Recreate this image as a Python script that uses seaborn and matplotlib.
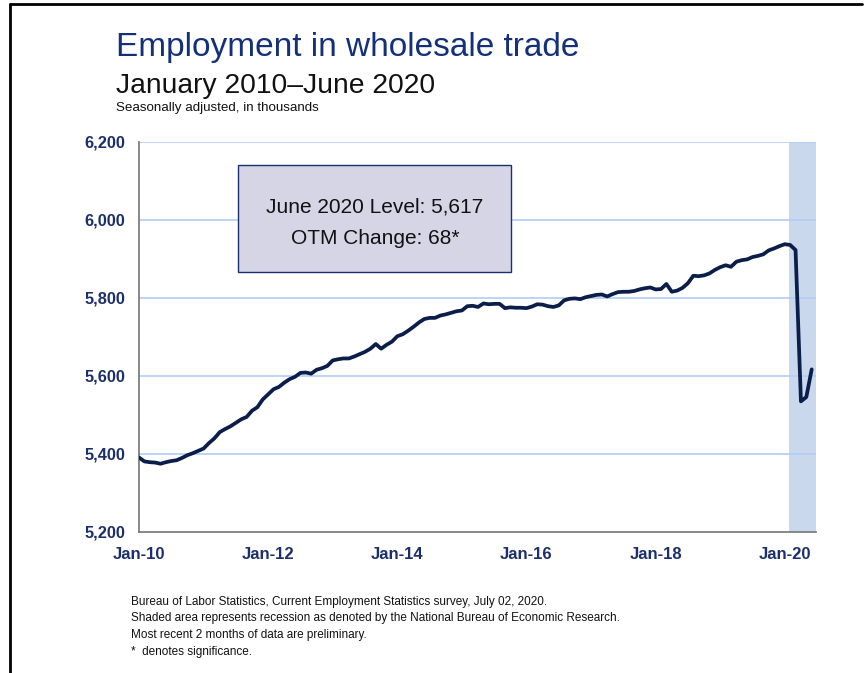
import numpy as np
import pandas as pd
import matplotlib
matplotlib.use("Agg")
import matplotlib.pyplot as plt
import seaborn as sns
from matplotlib.patches import Rectangle
from matplotlib.lines import Line2D

# ---- data (thousands, seasonally adjusted), Jan 2010 - Jun 2020 ----
y2010 = [5391, 5381, 5379, 5378, 5375, 5379, 5382, 5384, 5390, 5397, 5402, 5408]
y2011 = [5414, 5428, 5440, 5456, 5464, 5471, 5480, 5489, 5495, 5511, 5520, 5540]
y2012 = [5553, 5566, 5572, 5583, 5592, 5598, 5608, 5609, 5606, 5616, 5620, 5626]
y2013 = [5640, 5643, 5645, 5645, 5650, 5656, 5662, 5670, 5682, 5670, 5680, 5688]
y2014 = [5702, 5707, 5716, 5726, 5737, 5746, 5749, 5749, 5755, 5758, 5762, 5766]
y2015 = [5768, 5779, 5780, 5777, 5786, 5784, 5785, 5785, 5774, 5776, 5775, 5775]
y2016 = [5774, 5778, 5784, 5783, 5779, 5777, 5781, 5794, 5798, 5799, 5797, 5802]
y2017 = [5805, 5808, 5809, 5804, 5810, 5815, 5816, 5816, 5818, 5822, 5825, 5827]
y2018 = [5822, 5823, 5836, 5816, 5819, 5826, 5838, 5857, 5856, 5858, 5863, 5872]
y2019 = [5879, 5884, 5880, 5893, 5897, 5899, 5905, 5908, 5912, 5922, 5927, 5933]
y2020 = [5938, 5936, 5923, 5535, 5546, 5617]

employment = y2010 + y2011 + y2012 + y2013 + y2014 + y2015 + y2016 + y2017 + y2018 + y2019 + y2020
months = list(range(len(employment)))

x_tick_months = [0, 24, 48, 72, 96, 120]
x_tick_labels = ["Jan-10", "Jan-12", "Jan-14", "Jan-16", "Jan-18", "Jan-20"]
y_ticks = [5200, 5400, 5600, 5800, 6000, 6200]
y_tick_labels = ["5,200", "5,400", "5,600", "5,800", "6,000", "6,200"]
recession_start = 121  # Feb 2020

title = "Employment in wholesale trade"
subtitle = "January 2010\u2013June 2020"
units = "Seasonally adjusted, in thousands"
box_lines = ["June 2020 Level: 5,617", "OTM Change: 68*"]
notes = [
    "Bureau of Labor Statistics, Current Employment Statistics survey, July 02, 2020.",
    "Shaded area represents recession as denoted by the National Bureau of Economic Research.",
    "Most recent 2 months of data are preliminary.",
    "*  denotes significance.",
]

df = pd.DataFrame({"month": months, "employment": employment})

sns.set_style("white")
plt.rcParams["font.family"] = ["Liberation Sans", "DejaVu Sans"]

W, H = 867, 673
fig = plt.figure(figsize=(W / 100, H / 100), dpi=100)
ax = fig.add_axes([139 / W, 1 - 532 / H, (816 - 139) / W, (532 - 142) / H])

navy = "#1B2F6B"
line_col = "#0B1E4A"

# recession shading
ax.axvspan(recession_start - 0.2, 125.8, color="#C9D8EC", zorder=0, lw=0)

sns.lineplot(data=df, x="month", y="employment", ax=ax, color=line_col,
             linewidth=2.7, zorder=3)

ax.set_xlim(0, 125.8)
ax.set_ylim(5200, 6200)
ax.set_yticks(y_ticks)
ax.set_yticklabels(y_tick_labels)
ax.set_xticks(x_tick_months)
ax.set_xticklabels(x_tick_labels)
ax.set_xlabel("")
ax.set_ylabel("")

for yv in y_ticks[1:]:
    ax.axhline(yv, color="#B3CDF3", lw=1.2, zorder=1)

for s in ["top", "right"]:
    ax.spines[s].set_visible(False)
for s in ["left", "bottom"]:
    ax.spines[s].set_color("#7F7F7F")
    ax.spines[s].set_linewidth(1.3)

ax.tick_params(axis="both", which="major", direction="out", length=5,
               width=1, color="#333333", labelcolor=navy, labelsize=11.8, pad=4)
for lab in ax.get_xticklabels() + ax.get_yticklabels():
    lab.set_fontweight("bold")
ax.tick_params(axis="x", pad=6, labelsize=12)
ax.tick_params(axis="y", pad=5)

# annotation box
box = Rectangle((238 / W, 1 - 272 / H), (511 - 238) / W, (272 - 165) / H,
                transform=fig.transFigure, facecolor="#D5D5E5",
                edgecolor="#1B2F6B", linewidth=1.0, zorder=5)
fig.patches.append(box)
fig.text(375 / W, 1 - 207 / H, box_lines[0], ha="center", va="center",
         fontsize=15, color="#111111", zorder=6)
fig.text(375 / W, 1 - 238 / H, box_lines[1], ha="center", va="center",
         fontsize=15, color="#111111", zorder=6)

# titles
fig.text(116 / W, 1 - 56 / H, title, ha="left", va="baseline",
         fontsize=24, color="#14307A")
fig.text(116 / W, 1 - 93 / H, subtitle, ha="left", va="baseline",
         fontsize=20.3, color="#111111")
fig.text(116 / W, 1 - 111 / H, units, ha="left", va="baseline",
         fontsize=9.6, color="#111111")

# notes
for i, t in enumerate(notes):
    fig.text(131 / W, 1 - (605 + i * 16.5) / H, t, ha="left", va="baseline",
             fontsize=8.5, color="#111111")

# slide frame
fig.add_artist(Line2D([10 / W, 10 / W], [0, 1 - 4 / H], transform=fig.transFigure,
                      color="black", lw=2))
fig.add_artist(Line2D([10 / W, 862 / W], [1 - 4 / H, 1 - 4 / H], transform=fig.transFigure,
                      color="black", lw=2))

fig.savefig("out.png", dpi=100)
